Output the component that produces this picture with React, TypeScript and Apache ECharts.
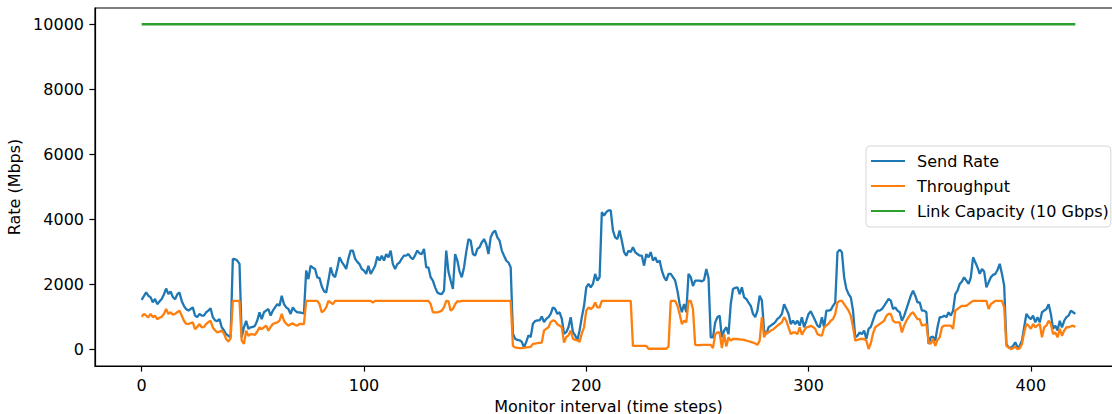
import React, { useEffect, useRef } from "react";
import * as echarts from "echarts";

// Send rate (Mbps), one value per monitor interval 0..420
const sendRate = [
  1530, 1650, 1760, 1660, 1610, 1456, 1560, 1400, 1480, 1560,
  1700, 1880, 1710, 1790, 1620, 1550, 1700, 1760, 1500, 1350,
  1250, 1200, 1250, 1300, 1050, 1000, 1100, 1050, 1050, 1150,
  1200, 1270, 1000, 900, 880, 940, 690, 600, 480, 430,
  380, 2790, 2780, 2740, 2640, 380, 690, 890, 640, 690,
  700, 740, 900, 1150, 940, 1150, 1200, 1250, 1050, 1200,
  1300, 1400, 1350, 1660, 1400, 1300, 1250, 1100, 1300, 1200,
  1150, 1150, 1130, 1120, 2430, 2170, 2580, 2520, 2480, 2220,
  2200, 1950, 1800, 1760, 2125, 2530, 2300, 2230, 2500, 2840,
  2700, 2600, 2480, 2800, 3046, 3046, 2800, 2700, 2630, 2480,
  2430, 2330, 2580, 2330, 2450, 2580, 2860, 2740, 2890, 2740,
  2940, 2840, 3046, 2630, 2480, 2630, 2680, 2800, 2890, 2890,
  2940, 2840, 2780, 2900, 3046, 2960, 2940, 3100, 2530, 2530,
  2227, 2125, 1917, 1760, 1720, 1710, 1814, 3046, 2400, 2125,
  1866, 2940, 2740, 2400, 2227, 2530, 3000, 3400, 3350, 2940,
  2890, 3100, 3150, 3300, 3400, 3250, 2940, 3450, 3600, 3660,
  3450, 3350, 3046, 2890, 2740, 2680, 2530, 490, 340, 300,
  290, 240, 70, 240, 440, 390, 800, 880, 900, 900,
  1020, 850, 950, 1000, 1100, 1300, 1250, 1100, 1150, 950,
  490, 540, 690, 1000, 540, 440, 290, 590, 1000, 1350,
  1917, 2020, 1917, 2020, 2330, 2125, 2227, 4225, 4120, 4225,
  4280, 4280, 3660, 3450, 3400, 3660, 3350, 3000, 2890, 3046,
  3000, 3150, 3000, 2940, 2890, 2890, 2584, 2940, 2840, 3000,
  2740, 2840, 2680, 2740, 2430, 2230, 2123, 2330, 2330, 2230,
  2123, 1815, 1405, 1150, 1405, 1150, 2330, 2230, 1960, 2123,
  2123, 2123, 2100, 2150, 2480, 2200, 380, 380, 840, 1000,
  1050, 380, 590, 690, 480, 1405, 1867, 1900, 1920, 1710,
  1920, 1610, 1560, 1450, 1350, 1100, 1000, 1200, 1660, 1510,
  590, 480, 690, 740, 790, 850, 950, 1000, 1100, 1400,
  1250, 1100, 790, 890, 790, 890, 740, 1000, 690, 890,
  1100, 1180, 1040, 890, 740, 690, 1000, 690, 1200, 1200,
  1225, 1350, 1450, 2995, 3070, 2995, 2225, 1870, 1710, 1610,
  1200, 380, 430, 530, 480, 590, 330, 640, 700, 900,
  1100, 1200, 1200, 1250, 1350, 1455, 1560, 1510, 1250, 1300,
  1200, 1150, 890, 1040, 1250, 1455, 1660, 1815, 1660, 1455,
  1455, 1200, 1200, 1150, 175, 380, 400, 280, 690, 1000,
  1000, 1050, 1000, 1150, 1050, 1200, 1710, 1815, 2020, 2100,
  2225, 2125, 2020, 2225, 2840, 2690, 2530, 2330, 2480, 2400,
  1915, 2070, 2225, 2300, 2330, 2450, 2640, 2330, 1965, 175,
  70, 50, 120, 230, 70, 120, 280, 690, 1100, 1000,
  940, 1050, 840, 1000, 840, 1150, 1200, 1250, 1400, 1100,
  640, 740, 590, 890, 690, 890, 1000, 1050, 1200, 1150,
  1100,
];

// Throughput (Mbps), one value per monitor interval 0..420
const throughput = [
  1015, 1100, 1050, 995, 1100, 1000, 1046, 940, 980, 1015,
  1100, 1250, 1100, 1150, 1080, 1100, 1150, 1200, 1050, 890,
  800, 790, 820, 840, 635, 700, 790, 685, 700, 790,
  850, 890, 685, 600, 530, 560, 585, 500, 330, 250,
  350, 1500, 1500, 1500, 1500, 280, 180, 585, 430, 480,
  470, 460, 560, 690, 635, 690, 740, 585, 700, 790,
  820, 840, 890, 1100, 890, 800, 740, 780, 810, 760,
  740, 790, 790, 790, 1500, 1500, 1500, 1500, 1500, 1500,
  1400, 1150, 1200, 1300, 1500, 1450, 1400, 1500, 1500, 1500,
  1500, 1500, 1500, 1500, 1500, 1500, 1500, 1500, 1500, 1500,
  1500, 1500, 1500, 1500, 1450, 1500, 1500, 1500, 1500, 1500,
  1500, 1500, 1500, 1500, 1500, 1500, 1500, 1500, 1500, 1500,
  1500, 1500, 1500, 1500, 1500, 1500, 1500, 1500, 1500, 1500,
  1400, 1150, 1150, 1150, 1170, 1200, 1300, 1500, 1490, 1200,
  1250, 1400, 1490, 1480, 1500, 1500, 1500, 1500, 1500, 1500,
  1500, 1500, 1500, 1500, 1500, 1500, 1500, 1500, 1500, 1500,
  1500, 1500, 1500, 1500, 1500, 1500, 1500, 120, 70, 60,
  50, 50, 60, 70, 80, 90, 180, 190, 200, 210,
  220, 590, 640, 690, 850, 900, 880, 780, 740, 690,
  220, 390, 440, 590, 340, 300, 290, 240, 500, 690,
  1200, 1300, 1250, 1300, 1450, 1300, 1300, 1500, 1500, 1500,
  1500, 1500, 1500, 1500, 1500, 1500, 1500, 1500, 1500, 1500,
  1500, 120, 120, 120, 120, 120, 120, 120, 30, 30,
  30, 30, 30, 30, 30, 30, 30, 100, 1500, 1500,
  1500, 1350, 1100, 790, 890, 840, 1500, 1500, 1250, 150,
  140, 140, 150, 150, 150, 150, 150, 50, 480, 530,
  530, 50, 480, 100, 380, 280, 330, 330, 330, 320,
  310, 300, 280, 260, 240, 220, 190, 150, 280, 1000,
  380, 530, 530, 590, 620, 680, 740, 790, 840, 1000,
  890, 690, 480, 530, 530, 480, 690, 460, 590, 690,
  700, 740, 700, 640, 480, 450, 430, 690, 740, 800,
  890, 940, 1100, 1450, 1500, 1500, 1400, 1300, 1200, 1040,
  700, 280, 300, 330, 330, 330, 280, 20, 200, 500,
  690, 740, 790, 840, 890, 1040, 1100, 1100, 890, 840,
  840, 840, 530, 740, 890, 1000, 1100, 1150, 1050, 940,
  940, 740, 760, 790, 230, 180, 330, 120, 300, 380,
  690, 740, 740, 740, 740, 640, 1200, 1250, 1300, 1350,
  1350, 1350, 1400, 1455, 1500, 1500, 1500, 1500, 1500, 1500,
  1500, 1250, 1400, 1450, 1500, 1500, 1500, 1500, 1300, 120,
  70, 20, 50, 90, 20, 50, 175, 530, 790, 740,
  640, 790, 690, 750, 790, 380, 690, 740, 890, 790,
  480, 530, 380, 640, 430, 590, 690, 690, 720, 740,
  700,
];

const linkCapacity = 10000;
const linkSteps = [0, 420];

const xTicks = [0, 100, 200, 300, 400];
const yTicks = [0, 2000, 4000, 6000, 8000, 10000];

const FONT = "DejaVu Sans";
const FS = 16;
const LINE_ICON = "path://M0,0 H34 V2 H0 Z";

export default function App() {
  const ref = useRef<HTMLDivElement>(null);

  useEffect(() => {
    if (!ref.current) return;
    const chart = echarts.init(ref.current, null, { renderer: "svg" });
    const textStyle = { fontFamily: FONT, fontSize: FS, color: "#000" };
    chart.setOption({
      animation: false,
      backgroundColor: "#ffffff",
      grid: {
        left: 95,
        top: 8,
        width: 1027,
        height: 358,
        containLabel: false,
        outerBoundsMode: "none",
        show: true,
        borderColor: "#000",
        borderWidth: 1.2,
        backgroundColor: "transparent",
      },
      xAxis: {
        type: "value",
        min: -21,
        max: 441,
        name: "Monitor interval (time steps)",
        nameLocation: "middle",
        nameGap: 32,
        nameTextStyle: textStyle,
        axisLine: { show: true, onZero: false, lineStyle: { color: "#000", width: 1.2 } },
        axisTick: { show: true, length: 5.6, customValues: xTicks, lineStyle: { color: "#000", width: 1.2 } },
        axisLabel: { ...textStyle, margin: 11, customValues: xTicks, formatter: (v: number) => String(v) },
        splitLine: { show: false },
      },
      yAxis: {
        type: "value",
        min: -500,
        max: 10500,
        name: "Rate (Mbps)",
        nameLocation: "middle",
        nameGap: 68,
        nameTextStyle: textStyle,
        axisLine: { show: true, onZero: false, lineStyle: { color: "#000", width: 1.2 } },
        axisTick: { show: true, length: 5.6, customValues: yTicks, lineStyle: { color: "#000", width: 1.2 } },
        axisLabel: { ...textStyle, margin: 11, customValues: yTicks, formatter: (v: number) => String(v) },
        splitLine: { show: false },
      },
      legend: {
        orient: "vertical",
        left: 866,
        top: 146,
        padding: [6, 2, 7, 5],
        itemGap: 7,
        itemWidth: 34,
        itemHeight: 2,
        icon: LINE_ICON,
        borderColor: "#d6d6d6",
        borderWidth: 1,
        borderRadius: 4,
        backgroundColor: "rgba(255,255,255,0.8)",
        textStyle: { ...textStyle, lineHeight: 18, padding: [0, 0, 0, 7] },
        data: ["Send Rate", "Throughput", "Link Capacity (10 Gbps)"],
      },
      series: [
        {
          name: "Send Rate",
          type: "line",
          symbol: "none",
          data: sendRate.map((v, i) => [i, v]),
          lineStyle: { color: "#1f77b4", width: 2.3 },
          itemStyle: { color: "#1f77b4" },
        },
        {
          name: "Throughput",
          type: "line",
          symbol: "none",
          data: throughput.map((v, i) => [i, v]),
          lineStyle: { color: "#ff7f0e", width: 2.3 },
          itemStyle: { color: "#ff7f0e" },
        },
        {
          name: "Link Capacity (10 Gbps)",
          type: "line",
          symbol: "none",
          data: linkSteps.map((s) => [s, linkCapacity]),
          lineStyle: { color: "#2ca02c", width: 2.3 },
          itemStyle: { color: "#2ca02c" },
        },
      ],
    });
    return () => chart.dispose();
  }, []);

  return (
    <div
      ref={ref}
      style={{ position: "fixed", left: 0, top: 0, width: 1112, height: 414, background: "#fff" }}
    />
  );
}
